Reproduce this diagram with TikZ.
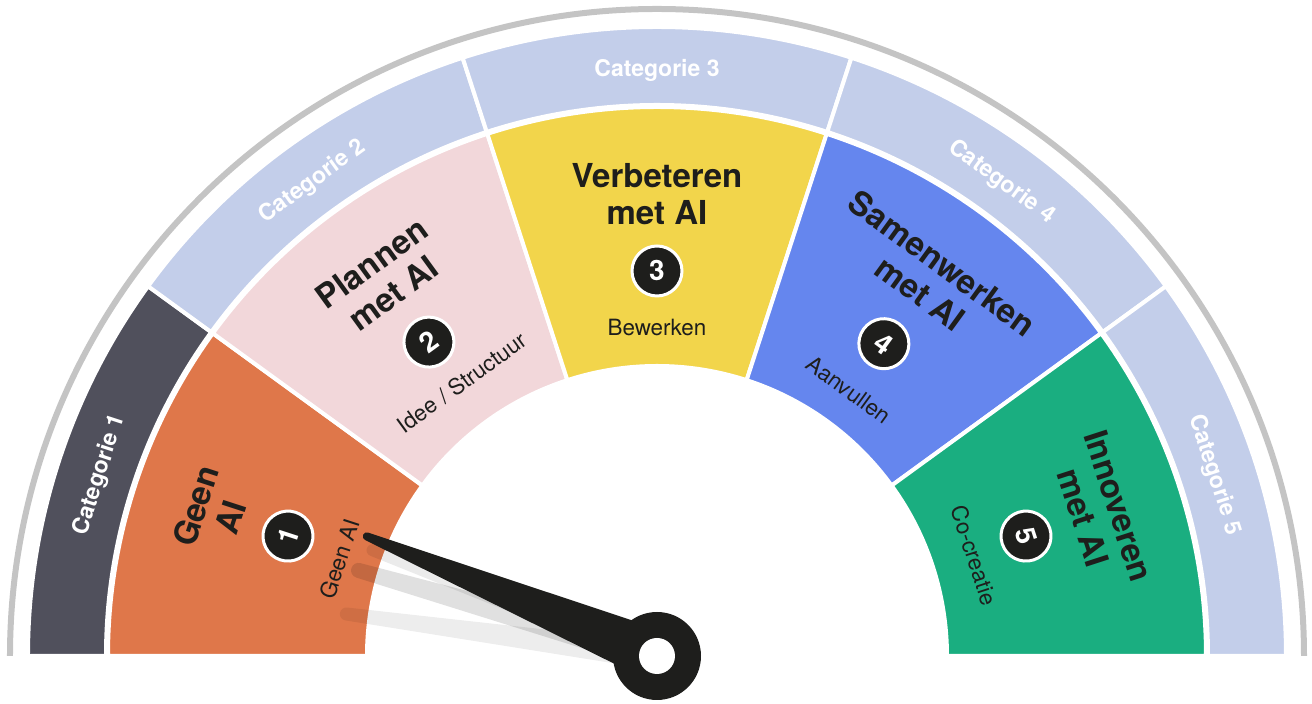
\documentclass[tikz,border=0pt]{standalone}
\usepackage{fontspec}
\setmainfont{TeX Gyre Heros}
\definecolor{cdark}{HTML}{50505C}
\definecolor{corange}{HTML}{DF774A}
\definecolor{cpink}{HTML}{F2D7DA}
\definecolor{cyellow}{HTML}{F2D54B}
\definecolor{cblue}{HTML}{6586EE}
\definecolor{cgreen}{HTML}{1AAE80}
\definecolor{ccat}{HTML}{C3CEEA}
\definecolor{cgray}{HTML}{C4C4C4}
\definecolor{cink}{HTML}{1E1E1C}
\newcommand{\annsec}[5]{\path[#1] (#2:#4) -- (#2:#5) arc[start angle=#2,end angle=#3,radius=#5] -- (#3:#4) arc[start angle=#3,end angle=#2,radius=#4] -- cycle;}
\begin{document}
\begin{tikzpicture}[x=0.5pt,y=0.5pt,
  segfill/.style={fill=#1,draw=white,line width=2pt,line join=miter},
  segtitle/.style={font=\fontsize{16.5}{18.5}\selectfont\bfseries,text=cink,align=center,inner sep=0pt},
  segsub/.style={font=\fontsize{11.2}{13}\selectfont,text=cink,inner sep=0pt},
  catlabel/.style={font=\fontsize{11.5}{13}\selectfont\bfseries,text=white,inner sep=0pt},
  numcirc/.style={circle,fill=cink,draw=white,line width=1.5pt,minimum size=25pt,inner sep=0pt,text=white,font=\fontsize{14}{16}\selectfont\bfseries},
  ghost/.style={fill=black,fill opacity=#1}
]
\useasboundingbox (-657,-48) rectangle (655,656);
% outer gray arc
\draw[cgray,line width=3pt] (180:647) arc[start angle=180,end angle=0,radius=647];
% category ring
\annsec{segfill=cdark}{144}{180}{551}{629}
\annsec{segfill=ccat}{108}{144}{551}{629}
\annsec{segfill=ccat}{72}{108}{551}{629}
\annsec{segfill=ccat}{36}{72}{551}{629}
\annsec{segfill=ccat}{0}{36}{551}{629}
% coloured sectors
\annsec{segfill=corange}{144}{180}{290}{549}
\annsec{segfill=cpink}{108}{144}{290}{549}
\annsec{segfill=cyellow}{72}{108}{290}{549}
\annsec{segfill=cblue}{36}{72}{290}{549}
\annsec{segfill=cgreen}{0}{36}{290}{549}
% category labels
\node[catlabel,rotate=72] (c1) at (162:586) {Categorie 1};
\node[catlabel,rotate=36] (c2) at (126:586) {Categorie 2};
\node[catlabel] (c3) at (90:586) {Categorie 3};
\node[catlabel,rotate=-36] (c4) at (54:586) {Categorie 4};
\node[catlabel,rotate=-72] (c5) at (18:586) {Categorie 5};
% titles
\node[segtitle,rotate=72] (t1) at (162:467) {Geen\\AI};
\node[segtitle,rotate=36] (t2) at (126:467) {Plannen\\met AI};
\node[segtitle] (t3) at (90:462) {Verbeteren\\met AI};
\node[segtitle,rotate=-36] (t4) at (54:467) {Samenwerken\\met AI};
\node[segtitle,rotate=-72] (t5) at (18:467) {Innoveren\\met AI};
% number circles
\node[numcirc,rotate=72] (n1) at (162:388) {1};
\node[numcirc,rotate=36] (n2) at (126:388) {2};
\node[numcirc] (n3) at (90:385) {3};
\node[numcirc,rotate=-36] (n4) at (54:386) {4};
\node[numcirc,rotate=-72] (n5) at (18:388) {5};
% subtitles
\node[segsub,rotate=72] (s1) at (163:332) {Geen AI};
\node[segsub,rotate=36] (s2) at (125.5:336) {Idee / Structuur};
\node[segsub] (s3) at (90:328) {Bewerken};
\node[segsub,rotate=-36] (s4) at (54.3:328) {Aanvullen};
\node[segsub,rotate=-72] (s5) at (17.6:333) {Co-creatie};
% ghost needles
\begin{scope}[rotate=172.3]
\path[ghost=0.07] (0,14) -- (313.5,6.5) arc[start angle=90,end angle=-90,radius=6.5] -- (0,-14) -- cycle;
\end{scope}
\begin{scope}[rotate=164]
\path[ghost=0.12] (0,15) -- (310.5,7.5) arc[start angle=90,end angle=-90,radius=7.5] -- (0,-15) -- cycle;
\end{scope}
\begin{scope}[rotate=159.6]
\path[ghost=0.08] (0,14) -- (303.5,6) arc[start angle=90,end angle=-90,radius=6] -- (0,-14) -- cycle;
\end{scope}
% needle
\begin{scope}[rotate=157.6]
\fill[cink] (0,26) -- (314,4) arc[start angle=90,end angle=-90,radius=4] -- (0,-26) -- cycle;
\end{scope}
\node[circle,fill=cink,minimum size=44pt,inner sep=0pt] (pivot) at (0,0) {};
\node[circle,fill=white,minimum size=18pt,inner sep=0pt] (hole) at (pivot.center) {};
\end{tikzpicture}
\end{document}
